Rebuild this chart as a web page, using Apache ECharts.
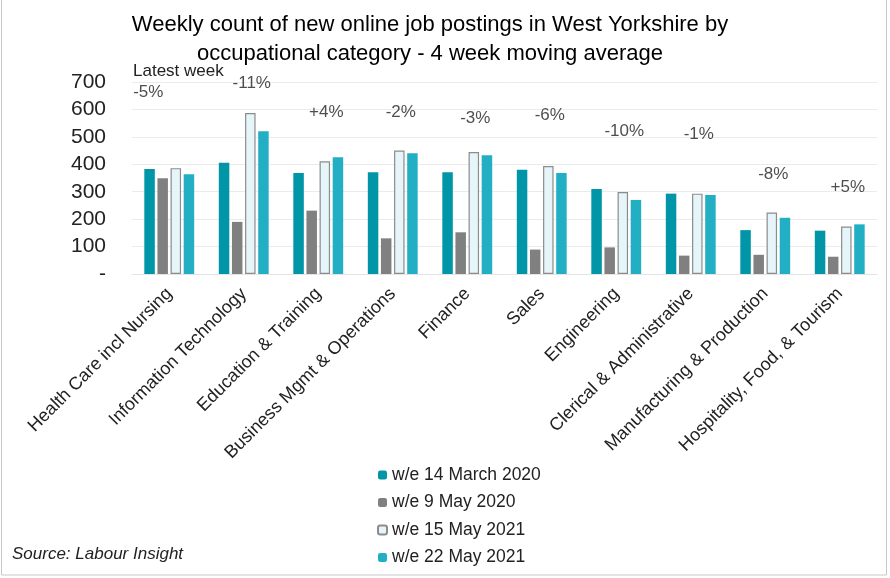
<!DOCTYPE html>
<html>
<head>
<meta charset="utf-8">
<script src="https://cdn.jsdelivr.net/npm/echarts@6/dist/echarts.min.js"></script>
<style>
  html, body { margin: 0; padding: 0; background: #fff; }
  #chart { width: 890px; height: 578px; }
</style>
</head>
<body>
<div id="chart"></div>
<script>
// categories along the x axis
var categories = ['Health Care incl Nursing', 'Information Technology', 'Education & Training',
    'Business Mgmt & Operations', 'Finance', 'Sales', 'Engineering',
    'Clerical & Administrative', 'Manufacturing & Production', 'Hospitality, Food, & Tourism'];

var seriesNames = ['w/e 14 March 2020', 'w/e 9 May 2020', 'w/e 15 May 2021', 'w/e 22 May 2021'];

// values
var march2020 = [383, 406, 368, 371, 371, 380, 310, 293, 160, 158];
var may2020   = [349, 190, 231, 130, 152, 89, 97, 67, 70, 63];
var may2021a  = [386, 587, 411, 450, 445, 394, 299, 293, 224, 173];
var may2021b  = [364, 520, 426, 440, 433, 368, 270, 288, 205, 181];

// latest-week change labels and the height (axis units) they sit at
var pctLabels = ['-5%', '-11%', '+4%', '-2%', '-3%', '-6%', '-10%', '-1%', '-8%', '+5%'];
var pctLabelY = [661, 697, 591, 591, 566, 577, 522, 511, 362, 315];

var chart = echarts.init(document.getElementById('chart'));

var font = 'Liberation Sans, Arial, sans-serif';
var barW = 10.5;

function barSeries(name, data, style){
    return {
        name: name,
        type: 'bar',
        data: data,
        barWidth: barW,
        barGap: '25%',
        itemStyle: style,
        animation: false
    };
}

// first label sits under "Latest week", the rest a little right of the group centre
var pctData = pctLabelY.map(function(v, i){
    return { value: [i, v], label: { offset: [i === 0 ? -21 : 8, 0] } };
});

var option = {
    backgroundColor: '#fff',
    textStyle: { fontFamily: font },
    title: {
        text: 'Weekly count of new online job postings in West Yorkshire by\noccupational category - 4 week moving average',
        left: 425,
        textAlign: 'center',
        top: 5,
        textStyle: { fontFamily: font, fontSize: 22, fontWeight: 'normal', color: '#000', lineHeight: 29 }
    },
    grid: { left: 132, right: 13, top: 82, bottom: 304, containLabel: false },
    legend: {
        data: seriesNames,
        orient: 'vertical',
        left: 372,
        top: 461,
        itemWidth: 9,
        itemHeight: 9,
        itemGap: 9.5,
        textStyle: { fontFamily: font, fontSize: 17.5, color: '#222', lineHeight: 18 }
    },
    xAxis: {
        type: 'category',
        data: categories,
        axisLine: { lineStyle: { color: '#e4e4e4' } },
        axisTick: { show: false },
        axisLabel: {
            rotate: 45,
            interval: 0,
            margin: 17,
            fontSize: 18,
            color: '#222',
            fontFamily: font
        }
    },
    yAxis: {
        type: 'value',
        min: 0,
        max: 700,
        interval: 100,
        axisLine: { show: false },
        axisTick: { show: false },
        splitLine: { lineStyle: { color: '#ebebeb' } },
        axisLabel: {
            fontSize: 21,
            color: '#222',
            margin: 26,
            fontFamily: font,
            formatter: function(v){ return v === 0 ? '-' : v; }
        }
    },
    series: [
        barSeries(seriesNames[0], march2020, { color: '#0096a7' }),
        barSeries(seriesNames[1], may2020, { color: '#808080' }),
        barSeries(seriesNames[2], may2021a, { color: '#e6f5f9', borderColor: '#8c8c8c', borderWidth: 1.2 }),
        barSeries(seriesNames[3], may2021b, { color: '#22afc4' }),
        {
            name: 'labels',
            type: 'scatter',
            symbolSize: 0,
            data: pctData,
            silent: true,
            animation: false,
            label: {
                show: true,
                position: 'inside',
                fontSize: 17,
                color: '#222',
                fontFamily: font,
                formatter: function(p){ return pctLabels[p.dataIndex]; }
            }
        }
    ],
    graphic: [
        {
            type: 'text',
            left: 133,
            top: 63,
            style: { text: 'Latest week', fontSize: 17, fill: '#222', fontFamily: font }
        },
        {
            type: 'text',
            left: 12,
            top: 546,
            style: { text: 'Source: Labour Insight', fontSize: 17, fontStyle: 'italic', fill: '#222', fontFamily: font }
        },
        {
            type: 'rect',
            shape: { x: 1.5, y: -1, width: 885, height: 576 },
            style: { fill: 'none', stroke: '#c8c8c8', lineWidth: 1 },
            silent: true
        }
    ]
};

chart.setOption(option);
</script>
</body>
</html>
